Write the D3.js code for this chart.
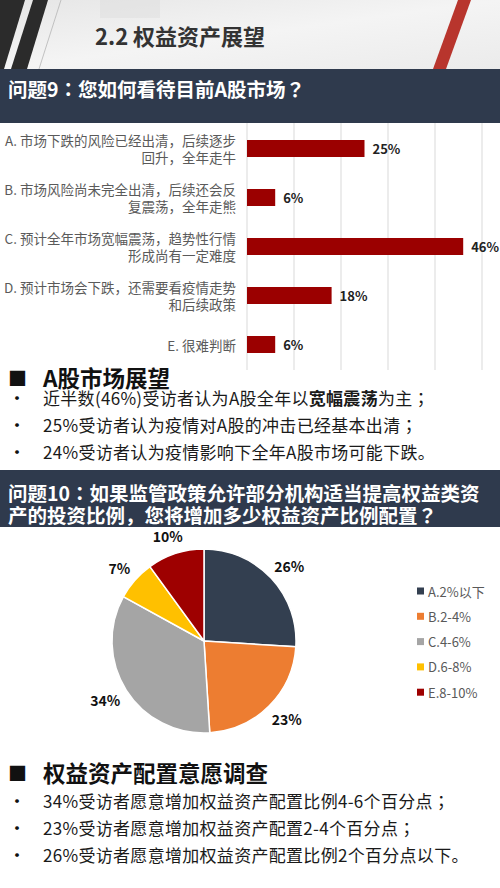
<!DOCTYPE html>
<html>
<head>
<meta charset="utf-8">
<script src="https://cdn.jsdelivr.net/npm/d3@7/dist/d3.min.js"></script>
<style>
  html, body { margin: 0; padding: 0; background: #ffffff; }
  svg { display: block; }
  text { font-family: "Noto Sans CJK SC", "Noto Sans", sans-serif; }
</style>
</head>
<body>
<svg id="chart" width="500" height="888"></svg>
<script>
// ---------------- DATA ----------------
const pageTitle = "2.2 权益资产展望";
const q9Title = "问题9：您如何看待目前A股市场？";
const barCategories = ["A", "B", "C", "D", "E"];
const barLabelLines = [
  ["A. 市场下跌的风险已经出清，后续逐步", "回升，全年走牛"],
  ["B. 市场风险尚未完全出清，后续还会反", "复震荡，全年走熊"],
  ["C. 预计全年市场宽幅震荡，趋势性行情", "形成尚有一定难度"],
  ["D. 预计市场会下跌，还需要看疫情走势", "和后续政策"],
  ["E. 很难判断"]
];
const barValues = [25, 6, 46, 18, 6];
const barTicks = [0, 10, 20, 30, 40, 50];

const section1Heading = "A股市场展望";
const section1Bullets = [
  [["近半数(46%)受访者认为A股全年以", false], ["宽幅震荡", true], ["为主；", false]],
  [["25%受访者认为疫情对A股的冲击已经基本出清；", false]],
  [["24%受访者认为疫情影响下全年A股市场可能下跌。", false]]
];

const q10TitleLines = ["问题10：如果监管政策允许部分机构适当提高权益类资", "产的投资比例，您将增加多少权益资产比例配置？"];
const pieCategories = ["A.2%以下", "B.2-4%", "C.4-6%", "D.6-8%", "E.8-10%"];
const pieValues = [26, 23, 34, 7, 10];
const pieColors = ["#333f50", "#ed7d31", "#a5a5a5", "#ffc000", "#9e0000"];

const section2Heading = "权益资产配置意愿调查";
const section2Bullets = [
  "34%受访者愿意增加权益资产配置比例4-6个百分点；",
  "23%受访者愿意增加权益资产配置2-4个百分点；",
  "26%受访者愿意增加权益资产配置比例2个百分点以下。"
];

// ---------------- DRAW ----------------
const svg = d3.select("#chart");
const defs = svg.append("defs");
const grad = defs.append("linearGradient").attr("id", "hdr").attr("x1", 0).attr("y1", 0).attr("x2", 1).attr("y2", 1);
grad.append("stop").attr("offset", "0%").attr("stop-color", "#e6e6e6");
grad.append("stop").attr("offset", "50%").attr("stop-color", "#f4f4f4");
grad.append("stop").attr("offset", "100%").attr("stop-color", "#ebebeb");

// text with centred full-width punctuation (TC glyphs)
function richText(sel, str, bold) {
  const re = /([：；？])/;
  str.split(re).filter(s => s.length).forEach(s => {
    const ts = sel.append("tspan").text(s);
    if (re.test(s)) ts.attr("font-family", "Noto Sans CJK TC");
    if (bold) ts.attr("font-weight", "bold");
  });
}

// Header
svg.append("rect").attr("x", 0).attr("y", 0).attr("width", 500).attr("height", 69).attr("fill", "url(#hdr)");
svg.append("rect").attr("x", 100).attr("y", 0).attr("width", 60).attr("height", 18).attr("fill", "#dedede").attr("opacity", 0.5);
svg.append("polygon").attr("points", "0,0 25,0 4,69 0,69").attr("fill", "#2b2b2b");
svg.append("polygon").attr("points", "33,0 48,0 27,69 11,69").attr("fill", "#2b2b2b");
svg.append("line").attr("x1", 61).attr("y1", 0).attr("x2", 39).attr("y2", 69).attr("stroke", "#b5b5b5").attr("stroke-width", 0.8);
svg.append("polygon").attr("points", "458,0 471,0 446,69 433,69").attr("fill", "#b8352d");
svg.append("text").attr("x", 95).attr("y", 35).attr("dominant-baseline", "central")
  .attr("font-size", 22).attr("font-weight", "bold").attr("fill", "#333333").text(pageTitle);

// Band 1
const bandColor = "#2f3a4d";
svg.append("rect").attr("x", 0).attr("y", 69).attr("width", 500).attr("height", 54).attr("fill", bandColor);
richText(svg.append("text").attr("x", 8).attr("y", 88).attr("dominant-baseline", "central")
  .attr("font-size", 19.5).attr("font-weight", "bold").attr("fill", "#ffffff"), q9Title, true);

// Bar chart
const x = d3.scaleLinear().domain([0, 50]).range([247, 482]);
const y = d3.scalePoint().domain(barCategories).range([124, 369]).padding(0.5);
const barH = 17;

svg.append("g").selectAll("line").data(barTicks).join("line")
  .attr("x1", d => x(d)).attr("x2", d => x(d)).attr("y1", 123).attr("y2", 370)
  .attr("stroke", "#d9d9d9").attr("stroke-width", 1);

svg.append("g").selectAll("rect").data(barValues).join("rect")
  .attr("x", x(0)).attr("y", (d, i) => y(barCategories[i]) - barH / 2)
  .attr("width", d => x(d) - x(0)).attr("height", barH).attr("fill", "#9b0000");

svg.append("g").selectAll("text").data(barValues).join("text")
  .attr("x", d => x(d) + 8).attr("y", (d, i) => y(barCategories[i]))
  .attr("dominant-baseline", "central").attr("font-size", 13).attr("font-weight", "bold").attr("fill", "#222")
  .text(d => d + "%");

const lbl = svg.append("g");
barLabelLines.forEach((lines, i) => {
  const cy = y(barCategories[i]);
  lines.forEach((t, j) => {
    const off = lines.length === 1 ? 0 : (j === 0 ? -8.5 : 8.5);
    lbl.append("text").attr("x", 236).attr("y", cy + off).attr("text-anchor", "end")
      .attr("dominant-baseline", "central").attr("font-size", 13.5).attr("fill", "#5a5a5a").text(t);
  });
});

// Sections
function heading(yc, t) {
  svg.append("text").attr("x", 8).attr("y", yc).attr("dominant-baseline", "central")
    .attr("font-size", 19).attr("fill", "#111").text("■");
  svg.append("text").attr("x", 43).attr("y", yc).attr("dominant-baseline", "central")
    .attr("font-size", 22.5).attr("font-weight", "bold").attr("fill", "#111").text(t);
}
function bullet(yc, parts) {
  svg.append("text").attr("x", 8).attr("y", yc).attr("dominant-baseline", "central")
    .attr("font-size", 18).attr("fill", "#111").text("•");
  const t = svg.append("text").attr("x", 43).attr("y", yc).attr("dominant-baseline", "central")
    .attr("font-size", 17).attr("letter-spacing", 0.3).attr("fill", "#1a1a1a");
  parts.forEach(p => richText(t, p[0], p[1]));
}
heading(377, section1Heading);
const b1y = [397, 424, 451];
section1Bullets.forEach((p, i) => bullet(b1y[i], p));

// Band 2
svg.append("rect").attr("x", 0).attr("y", 470).attr("width", 500).attr("height", 57).attr("fill", bandColor);
q10TitleLines.forEach((t, i) => {
  richText(svg.append("text").attr("x", 8).attr("y", 492 + i * 22).attr("dominant-baseline", "central")
    .attr("font-size", 19.5).attr("font-weight", "bold").attr("fill", "#ffffff"), t, true);
});

// Pie
const cx = 204, cy = 641, r = 92;
const pie = d3.pie().sort(null).value(d => d)(pieValues);
const arc = d3.arc().innerRadius(0).outerRadius(r);
const pg = svg.append("g").attr("transform", `translate(${cx},${cy})`);
pg.selectAll("path").data(pie).join("path").attr("d", arc)
  .attr("fill", (d, i) => pieColors[i]).attr("stroke", "#ffffff").attr("stroke-width", 1.5);
// outside-end labels: box pushed outward from the rim
const labelGap = 10, boxH = 16;
pg.selectAll("text").data(pie).join("text")
  .attr("text-anchor", "middle").attr("dominant-baseline", "central")
  .attr("font-size", 14).attr("font-weight", "bold").attr("fill", "#111")
  .text(d => d.data + "%")
  .attr("transform", function(d) {
    const a = (d.startAngle + d.endAngle) / 2;
    const ux = Math.sin(a), uy = -Math.cos(a);
    const w = this.getComputedTextLength();
    const px = ux * (r + labelGap) + ux * w / 2;
    const py = uy * (r + labelGap) + uy * boxH / 2;
    return `translate(${px},${py})`;
  });

// Legend
const lg = svg.append("g");
pieCategories.forEach((c, i) => {
  const ly = 591 + i * 25.3;
  lg.append("rect").attr("x", 417).attr("y", ly - 3.5).attr("width", 7).attr("height", 7).attr("fill", pieColors[i]);
  lg.append("text").attr("x", 428).attr("y", ly).attr("dominant-baseline", "central")
    .attr("font-size", 13).attr("fill", "#595959").text(c);
});

heading(772, section2Heading);
const b2y = [800, 827, 854];
section2Bullets.forEach((t, i) => bullet(b2y[i], [[t, false]]));
</script>
</body>
</html>
